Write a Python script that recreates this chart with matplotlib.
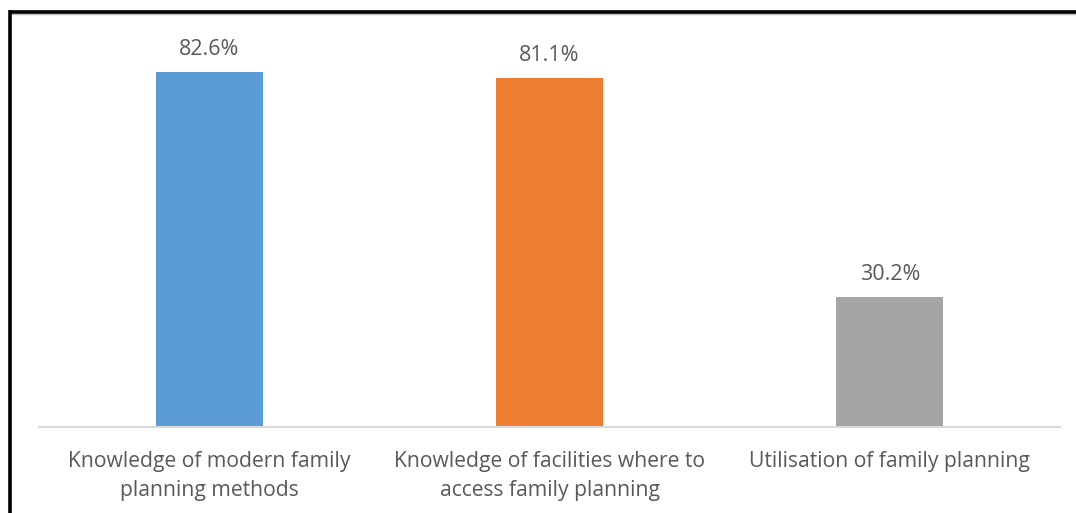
import matplotlib
matplotlib.use("Agg")
import matplotlib.pyplot as plt
from matplotlib.lines import Line2D

categories = [
    "Knowledge of modern family\nplanning methods",
    "Knowledge of facilities where to\naccess family planning",
    "Utilisation of family planning",
]
values = [82.6, 81.1, 30.2]
colors = ["#5B9BD5", "#ED7D31", "#A5A5A5"]

W, H = 1076, 513
fig = plt.figure(figsize=(W / 100, H / 100), dpi=100)
fig.patch.set_facecolor("white")

left, right, bottom, top = 39, 1060, 427, 40
ax = fig.add_axes([left / W, (H - bottom) / H, (right - left) / W, (bottom - top) / H])

x = range(len(categories))
bars = ax.bar(x, values, width=0.314, color=colors, zorder=2)
ax.set_xlim(-0.5, len(categories) - 0.5)
ax.set_ylim(0, 90)

text_color = "#595959"
font = ["Open Sans", "DejaVu Sans"]
for b, v in zip(bars, values):
    ax.annotate(f"{v:.1f}%", (b.get_x() + b.get_width() / 2, v),
                xytext=(0, 8.5), textcoords="offset points",
                ha="center", va="bottom", fontsize=15.5, color=text_color, family=font)

ax.set_xticks(list(x))
ax.set_xticklabels(categories, fontsize=15.2, color=text_color, family=font, linespacing=1.55)
ax.tick_params(axis="x", length=0, pad=17)
ax.set_yticks([])
for side in ("left", "right", "top"):
    ax.spines[side].set_visible(False)
ax.spines["bottom"].set_color("#D9D9D9")
ax.spines["bottom"].set_linewidth(1.5)

# frame lines along the top and left edges
fig.add_artist(Line2D([10 / W, 1.0], [1 - 13.5 / H, 1 - 13.5 / H], color="#BFBFBF", lw=1.0,
                      transform=fig.transFigure))
fig.add_artist(Line2D([10 / W, 1.0], [1 - 11.5 / H, 1 - 11.5 / H], color="black", lw=2.6,
                      transform=fig.transFigure, solid_capstyle="butt"))
fig.add_artist(Line2D([10 / W, 10 / W], [1 - 10 / H, 0], color="black", lw=2.6,
                      transform=fig.transFigure, solid_capstyle="butt"))

fig.savefig("out.png", dpi=100)
